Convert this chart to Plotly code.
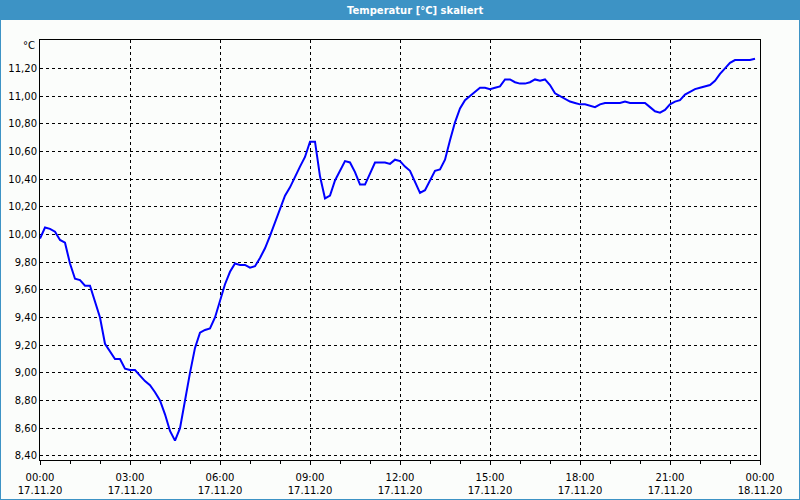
import pandas as pd
import plotly.graph_objects as go

# Temperature readings every 10 minutes, 17.11.20 00:00 .. 23:50
temps = [
    9.97, 10.05, 10.04, 10.02, 9.96, 9.94,
    9.79, 9.68, 9.67, 9.63, 9.63, 9.51,
    9.40, 9.21, 9.15, 9.10, 9.10, 9.03,
    9.02, 9.02, 8.98, 8.94, 8.91, 8.86,
    8.80, 8.70, 8.58, 8.51, 8.60, 8.81,
    9.00, 9.18, 9.29, 9.31, 9.32, 9.40,
    9.52, 9.64, 9.73, 9.79, 9.78, 9.78,
    9.76, 9.77, 9.83, 9.90, 9.99, 10.09,
    10.19, 10.28, 10.34, 10.42, 10.49, 10.56,
    10.67, 10.67, 10.42, 10.26, 10.28, 10.39,
    10.46, 10.53, 10.52, 10.45, 10.36, 10.36,
    10.44, 10.52, 10.52, 10.52, 10.51, 10.54,
    10.53, 10.49, 10.46, 10.38, 10.30, 10.32,
    10.39, 10.46, 10.47, 10.54, 10.68, 10.81,
    10.91, 10.97, 11.00, 11.03, 11.06, 11.06,
    11.05, 11.06, 11.07, 11.12, 11.12, 11.10,
    11.09, 11.09, 11.10, 11.12, 11.11, 11.12,
    11.08, 11.02, 11.00, 10.98, 10.96, 10.95,
    10.94, 10.94, 10.93, 10.92, 10.94, 10.95,
    10.95, 10.95, 10.95, 10.96, 10.95, 10.95,
    10.95, 10.95, 10.92, 10.89, 10.88, 10.90,
    10.94, 10.96, 10.97, 11.01, 11.03, 11.05,
    11.06, 11.07, 11.08, 11.11, 11.16, 11.20,
    11.24, 11.26, 11.26, 11.26, 11.26, 11.27,
]
times = pd.date_range("2020-11-17 00:00", periods=len(temps), freq="10min")

title_text = "Temperatur [°C] skaliert"
unit_text = "°C"
y_ticks = [8.4, 8.6, 8.8, 9.0, 9.2, 9.4, 9.6, 9.8, 10.0, 10.2, 10.4, 10.6, 10.8, 11.0, 11.2]
x_start = "2020-11-17 00:00"
x_end = "2020-11-18 00:00"

BG = "#fbfdfb"
BAR = "#3d93c5"
FONT = "DejaVu Sans"

fig = go.Figure()
fig.add_trace(go.Scatter(x=times, y=temps, mode="lines",
                         line=dict(color="#0000ff", width=2),
                         hoverinfo="x+y", showlegend=False))

# pixel -> paper helpers (plot area 40..760 x, 40..460 y)
def px(x):
    return (x - 40) / 720.0

def py(y):
    return (460 - y) / 420.0

fig.update_layout(
    width=800, height=500,
    margin=dict(l=40, r=40, t=40, b=40),
    paper_bgcolor=BG, plot_bgcolor=BG,
    separators=",.",
    font=dict(family=FONT, size=10, color="#000000"),
    showlegend=False,
    xaxis=dict(
        type="date", range=[x_start, x_end],
        dtick=3 * 3600 * 1000, tick0=x_start,
        tickformat="%H:%M<br>%d.%m.%y",
        showgrid=True, gridcolor="#000000", gridwidth=1, griddash="3px,3px",
        showline=True, linecolor="#000000", linewidth=1, mirror=True,
        ticks="outside", ticklen=4, tickcolor="#000000",
        ticklabelstandoff=4, automargin=False,
        minor=dict(dtick=3600 * 1000, ticks="outside", ticklen=3, tickcolor="#000000", showgrid=False),
        zeroline=False,
        tickfont=dict(family=FONT, size=10, color="#000000"),
    ),
    yaxis=dict(
        range=[8.37, 11.405],
        tickvals=y_ticks, tickformat=".2f",
        showgrid=True, gridcolor="#000000", gridwidth=1, griddash="3px,3px",
        showline=True, linecolor="#000000", linewidth=1, mirror=True,
        ticks="", zeroline=False, automargin=False,
        tickfont=dict(family=FONT, size=10, color="#000000"),
    ),
    shapes=[
        dict(type="rect", xref="paper", yref="paper",
             x0=px(0), x1=px(800), y0=py(20), y1=py(0),
             fillcolor=BAR, line=dict(width=0), layer="above"),
        dict(type="rect", xref="paper", yref="paper",
             x0=px(0), x1=px(800), y0=py(500), y1=py(0),
             fillcolor="rgba(0,0,0,0)", line=dict(color=BAR, width=2), layer="above"),
    ],
    annotations=[
        dict(text=title_text, xref="paper", yref="paper", x=px(415), y=py(10),
             xanchor="center", yanchor="middle", showarrow=False,
             font=dict(family=FONT, size=10, color="#ffffff", weight="bold")),
        dict(text=unit_text, xref="paper", yref="paper", x=px(37), y=py(46),
             xanchor="right", yanchor="middle", showarrow=False,
             font=dict(family=FONT, size=10, color="#000000")),
    ],
)

fig.write_html("out.html")
